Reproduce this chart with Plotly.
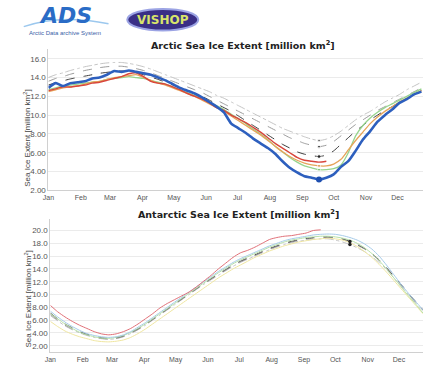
import plotly.graph_objects as go

# ---- sampling grid (day of year) and axis labels ----
DAYS = [0, 7, 14, 21, 28, 35, 42, 49, 56, 63, 70, 77, 84, 91, 98, 105, 112, 119,
        126, 133, 140, 147, 154, 161, 168, 175, 182, 189, 196, 203, 210, 217, 224,
        231, 238, 245, 252, 259, 266, 273, 280, 287, 294, 301, 308, 315, 322, 329,
        336, 343, 350, 357]
MONTH_START = [0, 31, 59, 90, 120, 151, 181, 212, 243, 273, 304, 334]
MONTHS = ["Jan", "Feb", "Mar", "Apr", "May", "Jun", "Jul", "Aug", "Sep", "Oct", "Nov", "Dec"]

ARC_TICKS = [2, 4, 6, 8, 10, 12, 14, 16]
ARC_TICK_TEXT = ["2.00", "4.00", "6.00", "8.00", "10.0", "12.0", "14.0", "16.0"]
ANT_TICKS = [2, 4, 6, 8, 10, 12, 14, 16, 18, 20]
ANT_TICK_TEXT = ["2.00", "4.00", "6.00", "8.00", "10.0", "12.0", "14.0", "16.0", "18.0", "20.0"]

# ---- Arctic extent (million km2) ----
arc_1980s = [14.0, 14.3, 14.5, 14.75, 14.95, 15.15, 15.3, 15.45, 15.55, 15.6, 15.6, 15.5,
             15.35, 15.15, 14.9, 14.6, 14.3, 14.0, 13.7, 13.4, 13.1, 12.8, 12.5, 12.1,
             11.8, 11.4, 11.0, 10.6, 10.2, 9.8, 9.4, 9.0, 8.6, 8.3, 8.0, 7.7, 7.45, 7.3,
             7.45, 7.8, 8.3, 8.9, 9.5, 10.0, 10.4, 10.9, 11.4, 11.8, 12.2, 12.7, 13.1, 13.5]
arc_1990s = [13.6, 13.9, 14.1, 14.35, 14.55, 14.75, 14.9, 15.05, 15.15, 15.2, 15.2, 15.1,
             14.95, 14.75, 14.5, 14.2, 13.9, 13.6, 13.3, 13.0, 12.7, 12.4, 12.0, 11.6,
             11.2, 10.8, 10.4, 10.0, 9.6, 9.2, 8.8, 8.4, 8.0, 7.6, 7.3, 7.0, 6.8, 6.65,
             6.8, 7.2, 7.8, 8.4, 9.0, 9.5, 10.0, 10.5, 10.9, 11.3, 11.7, 12.1, 12.5, 12.9]
arc_2000s = [13.2, 13.45, 13.65, 13.85, 14.0, 14.15, 14.3, 14.45, 14.55, 14.65, 14.7, 14.65,
             14.5, 14.3, 14.05, 13.8, 13.5, 13.2, 12.9, 12.6, 12.3, 12.0, 11.6, 11.2,
             10.8, 10.4, 9.9, 9.4, 8.9, 8.4, 7.9, 7.4, 6.9, 6.5, 6.1, 5.85, 5.7, 5.6,
             5.75, 6.2, 6.9, 7.6, 8.3, 8.9, 9.5, 10.0, 10.5, 10.9, 11.4, 11.8, 12.2, 12.6]
arc_2007 = [12.7, 12.9, 13.1, 13.2, 13.3, 13.4, 13.5, 13.6, 13.8, 13.9, 14.0, 14.1,
            14.0, 13.9, 13.7, 13.5, 13.3, 13.0, 12.7, 12.4, 12.1, 11.8, 11.4, 11.0,
            10.6, 10.1, 9.6, 9.1, 8.5, 8.0, 7.4, 6.7, 6.1, 5.5, 5.0, 4.6, 4.4, 4.2,
            4.2, 4.3, 4.7, 6.0, 7.8, 8.9, 9.7, 10.3, 10.8, 11.2, 11.6, 12.0, 12.4, 12.8]
arc_2011 = [12.5, 12.7, 12.9, 13.0, 13.1, 13.3, 13.5, 13.6, 13.8, 14.0, 14.1, 14.2,
            14.3, 14.0, 13.7, 13.4, 13.2, 12.9, 12.6, 12.3, 12.0, 11.6, 11.2, 10.8,
            10.4, 9.9, 9.4, 8.9, 8.4, 7.9, 7.3, 6.7, 6.1, 5.6, 5.2, 4.9, 4.7, 4.6,
            4.6, 4.8, 5.3, 6.3, 7.3, 8.2, 9.1, 9.8, 10.4, 10.9, 11.4, 11.8, 12.2, 12.6]
arc_2012 = [12.9, 13.4, 13.1, 13.4, 13.5, 13.6, 13.9, 14.0, 14.3, 14.7, 14.6, 14.75,
            14.6, 14.45, 14.3, 14.0, 13.7, 13.3, 12.9, 12.6, 12.3, 11.9, 11.4, 10.9,
            10.3, 9.1, 8.6, 8.1, 7.5, 7.0, 6.5, 5.9, 5.1, 4.4, 3.9, 3.5, 3.35, 3.15,
            3.35, 3.7, 4.5, 5.1, 6.2, 7.4, 8.3, 9.3, 10.0, 10.6, 11.3, 11.7, 12.2, 12.5]
arc_2014 = [12.6, 12.8, 13.0, 13.0, 13.1, 13.2, 13.4, 13.5, 13.7, 13.9, 14.1, 14.4,
            14.5, 14.1, 13.6, 13.4, 13.3, 13.0, 12.7, 12.3, 12.0, 11.7, 11.3, 10.8,
            10.5, 10.0, 9.6, 9.2, 8.7, 8.2, 7.6, 7.0, 6.5, 6.0, 5.5, 5.2, 5.1, 5.0, 5.1]

# ---- Antarctic extent (million km2) ----
ant_1980s = [6.7, 5.9, 5.1, 4.5, 4.0, 3.6, 3.3, 3.1, 3.0, 3.1, 3.4, 3.9, 4.5, 5.2, 6.0,
             6.8, 7.6, 8.4, 9.2, 10.0, 10.8, 11.6, 12.3, 13.0, 13.7, 14.4, 15.0, 15.5,
             16.0, 16.5, 17.0, 17.4, 17.8, 18.1, 18.3, 18.5, 18.6, 18.7, 18.7, 18.5,
             18.2, 17.8, 17.3, 16.7, 15.9, 15.0, 13.9, 12.6, 11.3, 10.0, 8.7, 7.4]
ant_1990s = [6.9, 6.0, 5.2, 4.6, 4.1, 3.7, 3.35, 3.15, 3.05, 3.15, 3.45, 3.95, 4.55, 5.25,
             6.05, 6.85, 7.65, 8.45, 9.25, 10.05, 10.85, 11.65, 12.4, 13.1, 13.8, 14.5,
             15.1, 15.6, 16.1, 16.6, 17.1, 17.5, 17.9, 18.2, 18.45, 18.65, 18.8, 18.9,
             18.9, 18.8, 18.6, 18.2, 17.7, 17.1, 16.3, 15.3, 14.1, 12.8, 11.5, 10.1, 8.8, 7.5]
ant_2000s = [7.1, 6.2, 5.4, 4.8, 4.2, 3.8, 3.45, 3.25, 3.15, 3.25, 3.55, 4.05, 4.65, 5.35,
             6.15, 6.95, 7.75, 8.55, 9.35, 10.15, 10.95, 11.75, 12.5, 13.2, 13.9, 14.6,
             15.2, 15.7, 16.2, 16.7, 17.2, 17.6, 18.0, 18.3, 18.55, 18.75, 18.9, 19.0,
             19.0, 18.9, 18.7, 18.3, 17.8, 17.2, 16.4, 15.4, 14.2, 12.9, 11.6, 10.2, 8.9, 7.6]
ant_2011 = [5.8, 5.0, 4.3, 3.8, 3.4, 3.1, 2.8, 2.65, 2.6, 2.7, 2.9, 3.3, 3.9, 4.6, 5.4,
            6.2, 7.0, 7.8, 8.6, 9.4, 10.2, 11.0, 11.8, 12.6, 13.3, 14.0, 14.6, 15.2,
            15.8, 16.3, 16.8, 17.2, 17.6, 17.9, 18.2, 18.4, 18.6, 18.7, 18.8, 18.7,
            18.5, 18.1, 17.5, 16.7, 15.8, 14.7, 13.5, 12.2, 10.9, 9.6, 8.3, 7.0]
ant_2012 = [7.0, 6.2, 5.4, 4.7, 4.1, 3.7, 3.4, 3.2, 3.15, 3.3, 3.6, 4.1, 4.7, 5.4, 6.2,
            7.0, 7.8, 8.6, 9.4, 10.2, 11.0, 11.8, 12.6, 13.4, 14.1, 14.8, 15.4, 15.9,
            16.4, 16.9, 17.4, 17.8, 18.2, 18.5, 18.7, 18.9, 19.0, 19.1, 19.1, 19.0,
            18.8, 18.5, 18.0, 17.3, 16.4, 15.3, 14.0, 12.6, 11.2, 9.8, 8.5, 7.1]
ant_2013 = [7.4, 6.5, 5.7, 5.0, 4.4, 3.9, 3.6, 3.4, 3.3, 3.4, 3.7, 4.2, 4.9, 5.6, 6.4,
            7.2, 8.0, 8.8, 9.6, 10.4, 11.2, 12.0, 12.8, 13.6, 14.3, 15.0, 15.6, 16.1,
            16.6, 17.1, 17.6, 18.0, 18.4, 18.7, 18.9, 19.1, 19.3, 19.4, 19.45, 19.4,
            19.2, 18.9, 18.5, 17.9, 17.1, 16.0, 14.6, 13.1, 11.6, 10.2, 8.9, 7.6]
ant_2014 = [8.3, 7.3, 6.5, 5.8, 5.2, 4.7, 4.2, 3.85, 3.7, 3.85, 4.2, 4.7, 5.4, 6.2, 7.0,
            7.9, 8.6, 9.2, 9.8, 10.4, 11.2, 12.1, 13.0, 14.0, 14.9, 15.8, 16.5, 16.9,
            17.4, 18.0, 18.6, 18.9, 19.1, 19.2, 19.4, 19.6, 20.0, 20.1]

ARC_MARK_IDX = 37   # Sep 17 markers
ANT_MARK_IDX = 41   # Oct 15 markers

W, H = 423, 366
TICK_FONT = dict(family="Liberation Sans", size=8, color="#555555")
MONTH_FONT = dict(family="Liberation Sans", size=7, color="#555555")

fig = go.Figure()


def line(xa, ya, y, color, width=1.0, dash="solid"):
    fig.add_trace(go.Scatter(
        x=DAYS[:len(y)], y=y, xaxis=xa, yaxis=ya, mode="lines",
        line=dict(color=color, width=width, dash=dash, shape="spline", smoothing=0.6),
        hoverinfo="skip", showlegend=False))


# Arctic panel
line("x", "y", arc_1980s, "#c4c4c4", 1.0, "dashdot")
line("x", "y", arc_1990s, "#9a9a9a", 1.0, "dash")
line("x", "y", arc_2000s, "#3c3c3c", 1.0, "dash")
line("x", "y", arc_2007, "#96d48c", 1.3)
line("x", "y", arc_2011, "#e6a45a", 1.3)
line("x", "y", arc_2014, "#d8463c", 1.4)
line("x", "y", arc_2012, "#2d5fbe", 2.6)

arc_mark_series = [arc_1980s, arc_1990s, arc_2000s, arc_2007, arc_2011]
fig.add_trace(go.Scatter(
    x=[DAYS[ARC_MARK_IDX]] * len(arc_mark_series),
    y=[s[ARC_MARK_IDX] for s in arc_mark_series],
    xaxis="x", yaxis="y", mode="markers",
    marker=dict(size=[3, 3, 4, 3, 3], color=["#555555", "#333333", "#111111", "#7cc070", "#d89040"]),
    hoverinfo="skip", showlegend=False))
fig.add_trace(go.Scatter(
    x=[DAYS[ARC_MARK_IDX]], y=[arc_2012[ARC_MARK_IDX]], xaxis="x", yaxis="y",
    mode="markers", marker=dict(size=6, color="#1f4fb0"),
    hoverinfo="skip", showlegend=False))

# Antarctic panel
line("x2", "y2", ant_1980s, "#c4c4c4", 1.0, "dashdot")
line("x2", "y2", ant_1990s, "#9a9a9a", 1.0, "dash")
line("x2", "y2", ant_2000s, "#555555", 1.0, "dash")
line("x2", "y2", ant_2011, "#efe6a0", 1.0)
line("x2", "y2", ant_2012, "#b6e0a6", 1.0)
line("x2", "y2", ant_2013, "#a6cbe8", 1.0)
line("x2", "y2", ant_2014, "#e07078", 1.0)

ant_mark_series = [ant_2000s, ant_1980s]
fig.add_trace(go.Scatter(
    x=[DAYS[ANT_MARK_IDX]] * len(ant_mark_series),
    y=[s[ANT_MARK_IDX] for s in ant_mark_series],
    xaxis="x2", yaxis="y2", mode="markers",
    marker=dict(size=3.5, color="#222222"),
    hoverinfo="skip", showlegend=False))


def px_x(x):
    return x / W


def px_y(y):
    return (H - y) / H


x_common = dict(tickvals=MONTH_START, ticktext=MONTHS, tickfont=MONTH_FONT,
                showgrid=False, zeroline=False, showline=True, linecolor="#d0d0d0",
                linewidth=1, ticks="", fixedrange=True)
y_common = dict(tickfont=TICK_FONT, showgrid=True, gridcolor="#ebebeb", gridwidth=1,
                zeroline=False, showline=True, linecolor="#d0d0d0", linewidth=1,
                ticks="", fixedrange=True)

fig.update_layout(
    width=W, height=H,
    margin=dict(l=0, r=0, t=0, b=0),
    paper_bgcolor="white", plot_bgcolor="white",
    xaxis=dict(domain=[px_x(43), 1], range=[0, 358.5], anchor="y", **x_common),
    yaxis=dict(domain=[px_y(193), px_y(50)], range=[2, 17], anchor="x",
               tickvals=ARC_TICKS, ticktext=ARC_TICK_TEXT, **y_common),
    xaxis2=dict(domain=[px_x(45), 1], range=[0, 357], anchor="y2", **x_common),
    yaxis2=dict(domain=[px_y(357), px_y(222)], range=[1, 21.8], anchor="x2",
                tickvals=ANT_TICKS, ticktext=ANT_TICK_TEXT, **y_common),
)

TITLE_FONT = dict(family="DejaVu Sans", size=9.5, color="#222222")
YT_FONT = dict(family="Liberation Sans", size=8, color="#444444")
ann = [
    dict(text="<b>Arctic Sea Ice Extent [million km<sup>2</sup>]</b>",
         x=px_x(240), y=px_y(46), font=TITLE_FONT),
    dict(text="<b>Antarctic Sea Ice Extent [million km<sup>2</sup>]</b>",
         x=px_x(236), y=px_y(217), font=TITLE_FONT),
    dict(text="Sea Ice Extent [million km<sup>2</sup>]", textangle=-90,
         x=px_x(21), y=px_y(140), font=YT_FONT),
    dict(text="Sea Ice Extent [million km<sup>2</sup>]", textangle=-90,
         x=px_x(22), y=px_y(303), font=YT_FONT),
    # ADS logo
    dict(text="<b><i>ADS</i></b>", x=px_x(60), y=px_y(16),
         font=dict(family="DejaVu Sans", size=22, color="#2a6cc6")),
    dict(text="Arctic Data archive System", x=px_x(60), y=px_y(33),
         font=dict(family="Liberation Sans", size=6, color="#3a62a8")),
    # VISHOP logo
    dict(text="<b>VISHOP</b>", x=px_x(159), y=px_y(20),
         font=dict(family="DejaVu Sans", size=12, color="#d8e46a")),
]
for a in ann:
    a.update(xref="paper", yref="paper", showarrow=False, xanchor="center", yanchor="middle")
fig.update_layout(annotations=ann)

fig.update_layout(shapes=[
    dict(type="path", xref="paper", yref="paper",
         path=f"M {px_x(18)},{px_y(27)} Q {px_x(55)},{px_y(14)} {px_x(104)},{px_y(24)}",
         line=dict(color="#9cc8ee", width=1.5), layer="below"),
    dict(type="circle", xref="paper", yref="paper",
         x0=px_x(123), x1=px_x(195), y0=px_y(31), y1=px_y(9),
         fillcolor="#3a2f86", line=dict(color="#9ca4e4", width=2), layer="below"),
])

fig.write_html("out.html")
